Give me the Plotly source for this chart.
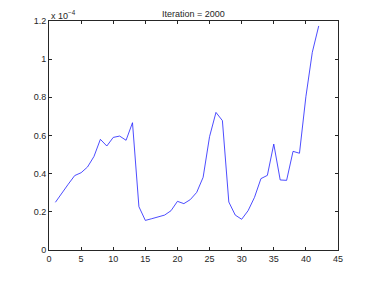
import plotly.graph_objects as go

x_vals = list(range(1, 43))
y_vals = [0.25, 0.30, 0.345, 0.39, 0.405, 0.435, 0.49, 0.58, 0.545, 0.59,
          0.597, 0.575, 0.667, 0.227, 0.155, 0.164, 0.173, 0.183, 0.206, 0.255,
          0.243, 0.264, 0.302, 0.381, 0.594, 0.721, 0.678, 0.2515, 0.183, 0.161,
          0.206, 0.276, 0.374, 0.391, 0.555, 0.367, 0.365, 0.517, 0.507, 0.803,
          1.036, 1.174]
title_text = "Iteration = 2000"
exponent_text = "x 10<sup>−4</sup>"

font = dict(family="Liberation Sans, Arial, sans-serif", size=9, color="#262626")

fig = go.Figure()
fig.add_trace(go.Scatter(x=x_vals, y=y_vals, mode="lines",
                         line=dict(color="#2020ff", width=0.8)))

axis_common = dict(showline=True, linecolor="#262626", linewidth=0.8, mirror="ticks",
                   ticks="inside", ticklen=3, tickcolor="#262626", tickwidth=0.8,
                   showgrid=False, zeroline=False, tickfont=font, automargin=False)

# page body has an 8px default margin, so offsets are compensated here
fig.update_layout(
    width=366, height=273,
    margin=dict(l=41, r=36, t=13, b=31, autoexpand=False),
    paper_bgcolor="white", plot_bgcolor="white",
    showlegend=False,
    font=font,
    xaxis=dict(range=[0, 45], dtick=5, tick0=0, **axis_common),
    yaxis=dict(range=[0, 1.2], dtick=0.2, tick0=0, **axis_common),
    annotations=[
        dict(text=title_text, xref="paper", yref="paper", x=0.5, y=1,
             xanchor="center", yanchor="bottom", showarrow=False, font=font, yshift=0),
        dict(text=exponent_text, xref="paper", yref="paper", x=0, y=1,
             xanchor="left", yanchor="bottom", showarrow=False, font=font, yshift=-2),
    ],
)

fig.write_html("out.html")
